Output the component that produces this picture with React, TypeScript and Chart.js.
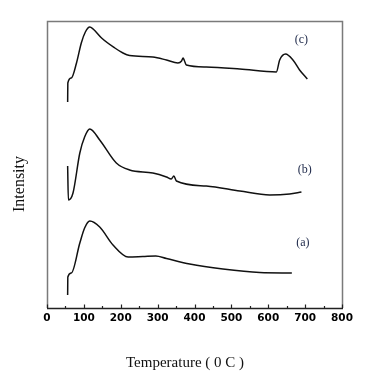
import React, { useEffect, useRef } from "react";
import { Chart, registerables } from "chart.js";

Chart.register(...registerables);

// x axis ticks (Temperature, °C)
const xTicks = [0, 100, 200, 300, 400, 500, 600, 700, 800];

// series (a)
const aTemp = [56, 56.5, 66, 89, 102, 116, 143, 179, 220, 260, 295, 324, 387, 477, 577, 664];
const aVal = [13, 31, 35, 65, 80, 87, 81, 63, 51, 51.5, 52, 49.5, 44, 39, 35.5, 35];

// series (b)
const bTemp = [56, 58, 70.5, 89, 102, 116, 143, 188, 224, 287, 324, 337, 344, 351, 432, 523, 604, 658, 690];
const bVal = [142, 108, 115, 155, 171, 179, 168, 145, 138, 135, 131, 129, 132, 127, 122, 117, 113, 114, 116];

// series (c)
const cTemp = [56, 56.5, 66, 80, 93, 104, 116, 125, 148, 184, 206, 224, 287, 324, 355, 365, 369, 373, 378, 432, 523, 622, 631, 647, 667, 685, 706];
const cVal = [206, 225, 230, 245, 265, 276, 281, 279, 270, 260, 255, 252.5, 251, 248, 245, 247, 250, 247, 243, 241, 239, 236, 248, 254, 248, 238, 229];

const seriesLabels = ["(a)", "(b)", "(c)"];
const labelTemps = [694, 699, 690];
const labelVals = [65, 138, 268];

const xTitle = "Temperature ( 0 C )";
const yTitle = "Intensity";

function pts(t: number[], v: number[]) {
  return t.map((x, i) => ({ x, y: v[i] }));
}

const decorPlugin = {
  id: "decor",
  afterDraw(chart: any) {
    const { ctx, chartArea } = chart;
    const { left, right, top, bottom } = chartArea;
    const xs = chart.scales.x;
    const ys = chart.scales.y;
    ctx.save();
    // frame
    ctx.strokeStyle = "#7a7a7a";
    ctx.lineWidth = 1.5;
    ctx.beginPath();
    ctx.moveTo(left + 0.5, bottom);
    ctx.lineTo(left + 0.5, top + 0.5);
    ctx.lineTo(right + 0.5, top + 0.5);
    ctx.lineTo(right + 0.5, bottom);
    ctx.stroke();
    ctx.strokeStyle = "#222";
    ctx.lineWidth = 1.5;
    ctx.beginPath();
    ctx.moveTo(left, bottom + 0.5);
    ctx.lineTo(right + 1, bottom + 0.5);
    ctx.stroke();
    // inward ticks
    ctx.lineWidth = 1.2;
    xs.ticks.forEach((tk: any) => {
      const px = Math.round(xs.getPixelForValue(tk.value)) + 0.5;
      const len = tk.value % 100 === 0 ? 3.5 : 2;
      ctx.beginPath();
      ctx.moveTo(px, bottom);
      ctx.lineTo(px, bottom - len);
      ctx.stroke();
    });
    // series labels
    ctx.fillStyle = "#1c2748";
    ctx.font = "12px 'Liberation Serif', serif";
    ctx.textAlign = "center";
    ctx.textBaseline = "middle";
    seriesLabels.forEach((s, i) => {
      ctx.fillText(s, xs.getPixelForValue(labelTemps[i]), ys.getPixelForValue(labelVals[i]));
    });
    // axis titles
    ctx.fillStyle = "#111";
    ctx.font = "15px 'Liberation Serif', serif";
    ctx.fillText(xTitle, 185, 363.5);
    ctx.translate(20, 184);
    ctx.rotate(-Math.PI / 2);
    ctx.font = "16px 'Liberation Serif', serif";
    ctx.fillText(yTitle, 0, 0);
    ctx.restore();
  },
};

export default function App() {
  const ref = useRef<HTMLCanvasElement | null>(null);
  useEffect(() => {
    if (!ref.current) return;
    const line = { borderColor: "#111", borderWidth: 1.5, pointRadius: 0, fill: false, cubicInterpolationMode: "monotone" as const };
    const chart = new Chart(ref.current, {
      type: "line",
      data: {
        datasets: [
          { label: "(a)", data: pts(aTemp, aVal), ...line },
          { label: "(b)", data: pts(bTemp, bVal), ...line },
          { label: "(c)", data: pts(cTemp, cVal), ...line },
        ],
      },
      options: {
        animation: false,
        responsive: false,
        devicePixelRatio: 1,
        layout: { padding: { top: 21, right: 40, left: 47, bottom: 0 } },
        plugins: { legend: { display: false }, tooltip: { enabled: false }, title: { display: false } },
        scales: {
          x: {
            type: "linear",
            min: 0,
            max: 800,
            grid: { display: false, drawTicks: false },
            border: { display: false },
            ticks: {
              stepSize: 50,
              autoSkip: false,
              maxRotation: 0,
              padding: 4,
              color: "#000",
              font: { family: "'DejaVu Sans', sans-serif", size: 10.5, weight: "bold" },
              callback: (v: any) => (xTicks.includes(Number(v)) ? String(v) : ""),
            },
            afterFit: (s: any) => {
              s.height = 78;
            },
          },
          y: { type: "linear", display: false, min: 0, max: 287 },
        },
      },
      plugins: [decorPlugin],
    });
    return () => chart.destroy();
  }, []);
  return (
    <div style={{ position: "absolute", left: 0, top: 0, width: 382, height: 386, background: "#fff" }}>
      <canvas ref={ref} width={382} height={386} style={{ width: 382, height: 386 }} />
    </div>
  );
}
